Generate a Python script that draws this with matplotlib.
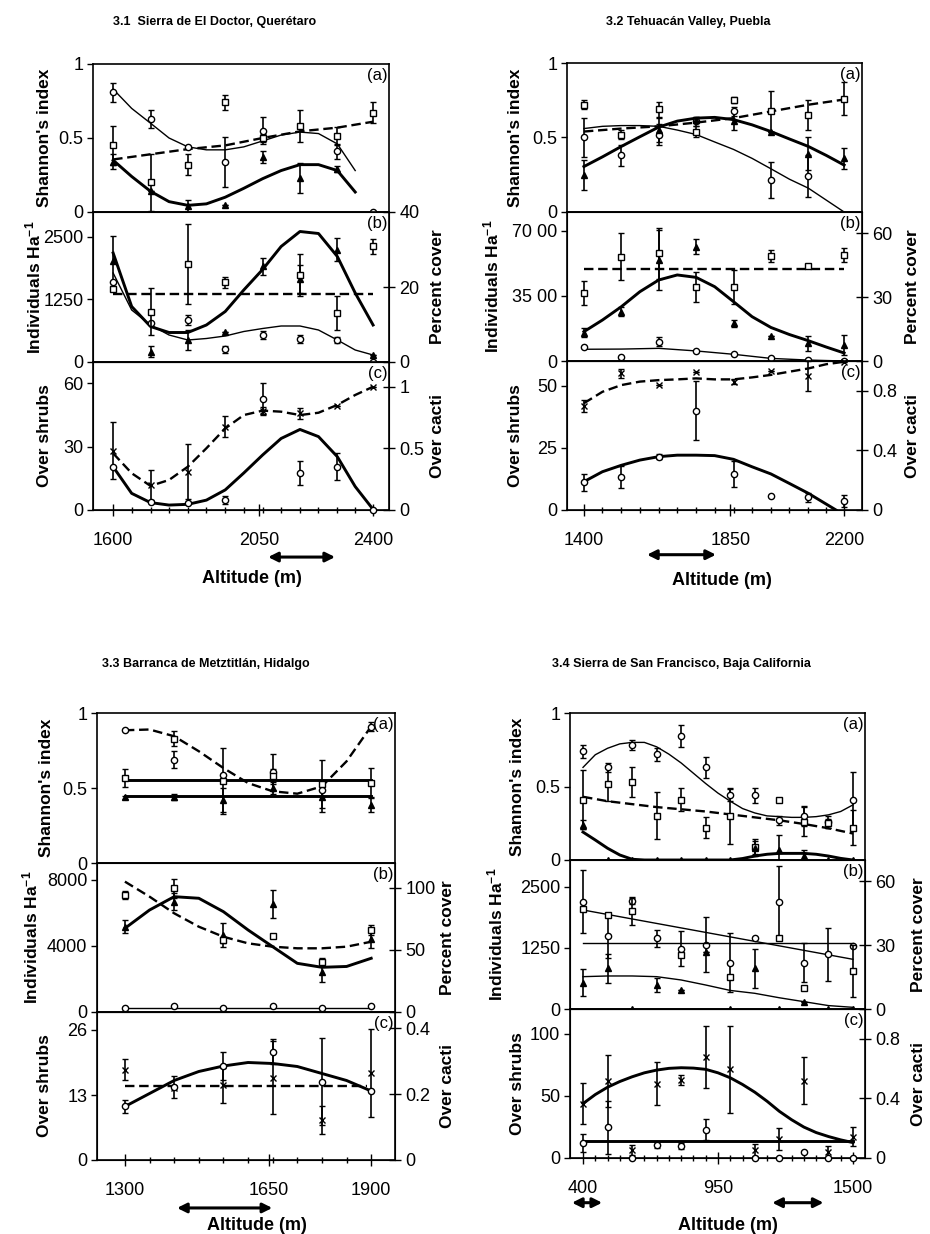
import numpy as np
import matplotlib
matplotlib.use("Agg")
import matplotlib.pyplot as plt
from matplotlib.ticker import FixedLocator

plt.rcParams['font.family'] = ['Liberation Sans', 'DejaVu Sans']
plt.rcParams['mathtext.fontset'] = 'custom'
plt.rcParams['mathtext.rm'] = 'Liberation Sans'
plt.rcParams['mathtext.bf'] = 'Liberation Sans:bold'
plt.rcParams['mathtext.default'] = 'bf'

nan = np.nan

# ---------------- 3.1 Sierra de El Doctor ----------------
alt_1 = [1600, 1715, 1830, 1945, 2060, 2175, 2290, 2400]
fit_1 = [1600, 1657, 1715, 1772, 1830, 1887, 1945, 2002, 2060, 2117, 2175, 2232, 2290, 2345, 2400]
arrow_1 = [2077, 2283]

sh1_circ = [0.81, 0.63, 0.44, 0.34, 0.55, nan, 0.41, 0.0]
sh1_circ_e = [0.065, 0.06, 0, 0.17, 0.09, 0, 0.05, 0]
sh1_sq = [0.45, 0.20, 0.32, 0.74, 0.50, 0.58, 0.515, 0.67]
sh1_sq_e = [0.13, 0.19, 0.07, 0.05, 0.03, 0.11, 0.06, 0.07]
sh1_tri = [0.34, 0.14, 0.04, 0.05, 0.37, 0.23, 0.29, nan]
sh1_tri_e = [0.05, 0, 0.04, 0, 0.04, 0.10, 0.02, 0]
sh1_fit_thin = [0.83, 0.70, 0.60, 0.50, 0.44, 0.42, 0.42, 0.44, 0.48, 0.52, 0.54, 0.53, 0.46, 0.28]
sh1_fit_dash = [0.355, 0.39, 0.425, 0.45, 0.50, 0.545, 0.57, 0.61]
sh1_fit_thick = [0.35, 0.24, 0.14, 0.07, 0.045, 0.055, 0.10, 0.16, 0.225, 0.28, 0.32, 0.32, 0.28, 0.135]

ind1_tri = [2010, 210, 440, 600, 1910, 1660, 2240, 140]
ind1_tri_e = [500, 110, 200, 0, 170, 280, 230, 0]
ind1_circ = [1607, 790, 840, 260, 540, 470, 440, 0]
ind1_circ_e = [0, 0, 90, 70, 80, 80, 60, 0]
cov1_sq = [19.5, 13.4, 26.1, 21.2, nan, 23.2, 13.1, 30.9]
cov1_sq_e = [0, 6.3, 10.7, 1.5, 0, 5.5, 4.5, 2.0]
cov1_fit = [18.1, 18.1]
ind1_fit_thick = [2180, 1110, 710, 590, 590, 740, 1010, 1440, 1850, 2310, 2610, 2570, 2110, 1380, 740]
ind1_fit_thin = [1780, 1040, 740, 540, 440, 470, 520, 610, 670, 720, 720, 640, 440, 240, 140]

shr1_x = [28, 11.8, 18.1, 39.4, 47.0, 45.7, 49.2, 58.3]
shr1_x_e = [13.5, 7, 13, 5, 1.5, 2.5, 0, 0]
cac1_circ = [0.35, 0.067, 0.06, 0.08, 0.90, 0.30, 0.35, 0.0]
cac1_circ_e = [0, 0, 0, 0.03, 0.13, 0.094, 0.11, 0]
shr1_fit = [26.8, 17.4, 11.4, 14.2, 20.5, 29.2, 38.6, 44.9, 47.0, 46.5, 44.9, 46.0, 49.7, 54.4, 58.3]
cac1_fit = [0.35, 0.135, 0.06, 0.04, 0.046, 0.08, 0.163, 0.30, 0.446, 0.58, 0.653, 0.595, 0.432, 0.19, 0.005]

# ---------------- 3.2 Tehuacan Valley ----------------
alt_2 = [1400, 1515, 1630, 1745, 1860, 1975, 2090, 2200]
fit_2 = [1400, 1457, 1515, 1572, 1630, 1687, 1745, 1802, 1860, 1917, 1975, 2032, 2090, 2145, 2200]
arrow_2 = [1594, 1806]

sh2_circ = [0.50, 0.38, 0.52, 0.61, 0.675, 0.215, 0.24, nan]
sh2_circ_e = [0.13, 0.07, 0.07, 0.03, 0.03, 0.12, 0.14, 0]
sh2_sq = [0.72, 0.52, 0.69, 0.54, 0.75, 0.675, 0.65, 0.76]
sh2_sq_e = [0.03, 0.03, 0.05, 0.04, 0.02, 0.14, 0.10, 0.11]
sh2_tri = [0.25, nan, 0.55, 0.62, 0.61, 0.54, 0.39, 0.36]
sh2_tri_e = [0.10, 0, 0.08, 0.02, 0.06, 0, 0.11, 0.07]
sh2_fit_dash = [0.54, 0.56, 0.575, 0.60, 0.63, 0.675, 0.72, 0.755]
sh2_fit_thin = [0.56, 0.575, 0.58, 0.58, 0.575, 0.55, 0.52, 0.47, 0.42, 0.36, 0.29, 0.22, 0.16, 0.08, 0.0]
sh2_fit_thick = [0.305, 0.37, 0.44, 0.505, 0.57, 0.61, 0.63, 0.635, 0.62, 0.585, 0.54, 0.49, 0.44, 0.38, 0.315]

ind2_tri = [1520, 2650, 5420, 6140, 2020, 1340, 950, 860]
ind2_tri_e = [250, 250, 1600, 400, 200, 0, 400, 550]
ind2_circ = [770, 220, 1040, 540, 360, 140, 50, 0]
ind2_circ_e = [0, 0, 250, 0, 0, 0, 0, 0]
cov2_sq = [31.8, 49.0, 50.6, 34.9, 34.9, 49.3, 44.6, 49.8]
cov2_sq_e = [5.6, 11, 12, 7, 8, 2.8, 0, 3.5]
cov2_fit = [43.1, 43.1]
ind2_fit_thick = [1575, 2200, 2915, 3720, 4350, 4620, 4490, 3990, 3185, 2380, 1800, 1420, 1090, 750, 430]
ind2_fit_thin = [630, 640, 680, 540, 360, 140, 50, 0]

shr2_x = [41.9, 55.0, 50.3, 55.7, 51.7, 56.1, 54.0, 59.7]
shr2_x_e = [2.5, 1.8, 0, 0, 1, 0, 6, 0]
cac2_circ = [0.186, 0.22, 0.358, 0.667, 0.242, 0.094, 0.085, 0.06]
cac2_circ_e = [0.056, 0.073, 0.015, 0.196, 0.09, 0, 0.03, 0.04]
shr2_fit = [43.0, 47.6, 50.3, 51.7, 52.3, 52.6, 53.0, 52.6, 52.6, 53.4, 54.4, 55.7, 57.0, 58.7, 59.7]
cac2_fit_x = [1400, 1457, 1515, 1572, 1630, 1687, 1745, 1802, 1860, 1917, 1975, 2032, 2090, 2150, 2175]
cac2_fit = [0.19, 0.257, 0.30, 0.335, 0.358, 0.368, 0.368, 0.365, 0.34, 0.29, 0.242, 0.178, 0.112, 0.033, 0.0]

# ---------------- 3.3 Barranca de Metztitlan ----------------
alt_3 = [1300, 1420, 1540, 1660, 1780, 1900]
fit_3 = [1300, 1360, 1420, 1480, 1540, 1600, 1660, 1720, 1780, 1840, 1900]
arrow_3 = [1427, 1659]

sh3_circ = [0.885, 0.69, 0.59, 0.61, 0.49, 0.907]
sh3_circ_e = [0, 0.055, 0, 0.12, 0, 0.03]
sh3_sq = [0.567, 0.827, 0.545, 0.58, 0.53, 0.533]
sh3_sq_e = [0.06, 0.05, 0.22, 0.05, 0.16, 0.10]
sh3_tri = [0.44, 0.44, 0.42, 0.50, 0.44, 0.39]
sh3_tri_e = [0.01, 0.02, 0.08, 0.04, 0.10, 0.05]
sh3_flat_hi = [0.551, 0.551]
sh3_flat_lo = [0.444, 0.444]
sh3_fit_dash = [0.885, 0.89, 0.845, 0.745, 0.633, 0.533, 0.478, 0.462, 0.511, 0.678, 0.911]

ind3_tri = [5150, 6660, 4650, 6520, 2435, 4390]
ind3_tri_e = [400, 500, 700, 850, 600, 500]
ind3_circ = [215, 360, 215, 360, 215, 360]
cov3_sq = [94.2, 99.6, 58.0, 61.2, 40.5, 66.0]
cov3_sq_e = [3.3, 7.4, 2.5, 1.5, 3, 4]
cov3_fit = [105, 92.9, 79.5, 68.7, 60.6, 55.3, 52.6, 51.3, 51.3, 52.6, 56.6]
ind3_fit = [5055, 6160, 6965, 6870, 6060, 4955, 3945, 2940, 2700, 2750, 3245]
ind3_flat = [220, 220]

shr3_x = [18.1, 14.5, 15.0, 16.5, 8.1, 17.5]
shr3_x_e = [2.1, 0, 3.5, 7.3, 2.8, 8.8]
shr3_circ = [10.8, 14.7, 18.8, 21.7, 15.7, 13.8]
shr3_circ_e = [1.3, 2.2, 2.8, 2.5, 8.7, 0]
shr3_fit = [10.7, 13.3, 15.9, 17.7, 18.8, 19.5, 19.3, 18.7, 17.3, 15.9, 13.8]
shr3_flat = [14.8, 14.8]

# ---------------- 3.4 Sierra de San Francisco ----------------
alt_4 = [400, 500, 600, 700, 800, 900, 1000, 1100, 1200, 1300, 1400, 1500]
fit_4 = [400, 450, 500, 550, 600, 650, 700, 750, 800, 850, 900, 950, 1000,
         1050, 1100, 1150, 1200, 1250, 1300, 1350, 1400, 1450, 1500]
arrow_4a = [355, 478]
arrow_4b = [1171, 1380]

sh4_circ = [0.74, 0.63, 0.78, 0.72, 0.845, 0.63, 0.44, 0.44, 0.27, 0.30, 0.26, 0.41]
sh4_circ_e = [0.045, 0.03, 0.035, 0.045, 0.075, 0.07, 0.04, 0.05, 0.03, 0.07, 0.04, 0.19]
sh4_sq = [0.41, 0.52, 0.53, 0.30, 0.41, 0.22, 0.30, 0.09, 0.41, 0.26, 0.25, 0.22]
sh4_sq_e = [0.20, 0.12, 0.10, 0.16, 0.08, 0.07, 0.19, 0.05, 0, 0.10, 0.03, 0.12]
sh4_tri = [0.24, 0, 0, 0, 0, 0, 0, 0.08, 0.07, 0.03, 0, 0]
sh4_tri_e = [0.03, 0, 0, 0, 0, 0, 0, 0.05, 0.10, 0.04, 0, 0]
sh4_fit_thin = [0.63, 0.716, 0.76, 0.79, 0.80, 0.80, 0.77, 0.72, 0.66, 0.59, 0.52, 0.455,
                0.40, 0.35, 0.32, 0.30, 0.295, 0.29, 0.29, 0.295, 0.307, 0.33, 0.375]
sh4_fit_dash = [0.43, 0.40, 0.38, 0.36, 0.345, 0.33, 0.31, 0.29, 0.27, 0.245, 0.216, 0.18]
sh4_fit_thick = [0.19, 0.136, 0.08, 0.034, 0.005, 0, 0, 0, 0, 0, 0, 0,
                 0, 0.01, 0.027, 0.039, 0.045, 0.045, 0.045, 0.039, 0.027, 0.011, 0.0]

ind4_circ = [2197, 1495, 2217, 1447, 1235, 1320, 950, 1460, 2183, 950, 1119, 1290]
ind4_circ_e = [650, 450, 60, 170, 360, 570, 600, 0, 740, 400, 540, 0]
cov4_sq = [46.8, 44.2, 46.0, nan, 25.5, nan, 14.8, nan, 33.5, 9.7, nan, 17.9]
cov4_sq_e = [0, 0.5, 6.6, 0, 0, 0, 0, 0, 0, 0, 0, 12.4]
ind4_tri = [540, 831, 0, 491, 389, 1160, 0, 830, 0, 150, 0, 0]
ind4_tri_e = [280, 300, 0, 150, 0, 0, 0, 400, 0, 0, 0, 0]
ind4_fit_slope = [2027, 1017]
cov4_fit = [30.9, 30.9]
ind4_fit_low = [662, 676, 676, 662, 594, 491, 380, 321, 230, 150, 70, 34]

shr4_x = [43.8, 62.2, 6.5, 60, 62.7, 81.6, 71.4, 6.5, 15.1, 62.2, 5, 17.3]
shr4_x_e = [16.5, 21, 4, 17, 4, 25, 35, 5, 9, 19, 5, 8]
cac4_circ = [0.10, 0.205, 0.0, 0.09, 0.083, 0.19, nan, 0.0, 0.0, 0.04, 0.0, 0.0]
cac4_circ_e = [0.06, 0.18, 0, 0.02, 0.02, 0.07, 0, 0, 0, 0, 0, 0]
shr4_fit = [43.8, 51.1, 57.0, 61.6, 65.4, 68.6, 70.8, 72.2, 72.7, 72.4, 71.4, 68.6,
            64.6, 59.2, 53.0, 45.7, 37.6, 30.8, 24.9, 20.5, 17.3, 14.6, 12.4]
cac4_flat = [0.115, 0.115]


W, H = 930, 1234
fig = plt.figure(figsize=(W / 100, H / 100), dpi=100)
TICK = 13
LAB = 12.5


def stack(left, right, edges):
    axs = []
    for t, b in zip(edges[:-1], edges[1:]):
        axs.append(fig.add_axes([left / W, 1 - b / H, (right - left) / W, (b - t) / H]))
    return axs


def lab(v):
    return f"{v:g}"


def base(ax, xlim, ylim, yt, ytl=None, xt=None, minor=None):
    ax.set_xlim(*xlim)
    ax.set_ylim(*ylim)
    ax.set_yticks(yt, labels=ytl if ytl else [lab(v) for v in yt])
    ax.tick_params(axis='y', direction='out', length=4, width=1, labelsize=TICK, pad=3)
    if xt is None:
        ax.set_xticks([])
    else:
        ax.set_xticks(xt, labels=[lab(v) for v in xt])
        ax.xaxis.set_minor_locator(FixedLocator(minor))
        ax.tick_params(axis='x', which='major', direction='inout', length=8, width=1,
                       labelsize=TICK, pad=12)
        ax.tick_params(axis='x', which='minor', direction='inout', length=5, width=1)
    for s in ax.spines.values():
        s.set_linewidth(1.2)


def right(ax, ylim, yt, label, xf):
    ax2 = ax.twinx()
    ax2.set_ylim(*ylim)
    ax2.set_yticks(yt, labels=[lab(v) for v in yt])
    ax2.tick_params(axis='y', direction='inout', length=9, width=1, labelsize=TICK, pad=3)
    ax2.set_ylabel(label, fontsize=LAB, fontweight='bold')
    ax2.yaxis.set_label_coords(xf, 0.5)
    return ax2


def ylab(ax, text, xf):
    ax.set_ylabel(text, fontsize=LAB, fontweight='bold')
    ax.yaxis.set_label_coords(xf, 0.5)


def tag(ax, text):
    ax.text(0.995, 0.975, text, transform=ax.transAxes, ha='right', va='top', fontsize=12)


def curve(ax, x, y, kind):
    if kind == 'thick':
        ax.plot(x, y, color='k', lw=2.1, zorder=2)
    elif kind == 'thin':
        ax.plot(x, y, color='k', lw=1.0, zorder=2)
    else:
        ax.plot(x, y, color='k', lw=1.7, ls=(0, (4, 2)), zorder=2)


def pts(ax, x, y, e, marker):
    face = 'k' if marker == '^' else 'white'
    eb = ax.errorbar(x, y, yerr=e, fmt=marker, ms=4.5, mfc=face, mec='k', mew=1.0,
                     ecolor='k', elinewidth=1.2, capsize=2.5, capthick=1.2, zorder=3)
    for a in eb.get_children():
        a.set_clip_on(False)


def arrow(ax, span, yf):
    ax.annotate('', xy=(span[1], yf), xytext=(span[0], yf),
                xycoords=('data', 'axes fraction'), textcoords=('data', 'axes fraction'),
                arrowprops=dict(arrowstyle='<|-|>', color='k', lw=2.2, mutation_scale=14,
                                shrinkA=0, shrinkB=0),
                annotation_clip=False)


def xlabel(ax, xf, yf):
    ax.set_xlabel('Altitude (m)', fontsize=13, fontweight='bold')
    ax.xaxis.set_label_coords(xf, yf)


# ---- 3.1 ----
fig.text(215 / W, 1 - 22 / H, '3.1  Sierra de El Doctor, Querétaro', ha='center',
         va='center', fontsize=9, fontweight='bold')
a, b, c = stack(93, 389, [64, 212, 362, 510])
xl = (1538, 2449)
base(a, xl, (0, 1), [0, 0.5, 1])
curve(a, fit_1[:14], sh1_fit_thin, 'thin')
curve(a, alt_1, sh1_fit_dash, 'dash')
curve(a, fit_1[:14], sh1_fit_thick, 'thick')
pts(a, alt_1, sh1_circ, sh1_circ_e, 'o')
pts(a, alt_1, sh1_sq, sh1_sq_e, 's')
pts(a, alt_1, sh1_tri, sh1_tri_e, '^')
ylab(a, "Shannon's index", -0.138)
tag(a, '(a)')

base(b, xl, (0, 3000), [0, 1250, 2500])
b2 = right(b, (0, 40), [0, 20, 40], 'Percent cover', 1.139)
curve(b, fit_1, ind1_fit_thick, 'thick')
curve(b, fit_1, ind1_fit_thin, 'thin')
curve(b2, [alt_1[0], alt_1[-1]], cov1_fit, 'dash')
pts(b, alt_1, ind1_tri, ind1_tri_e, '^')
pts(b, alt_1, ind1_circ, ind1_circ_e, 'o')
pts(b2, alt_1, cov1_sq, cov1_sq_e, 's')
ylab(b, 'Individuals Ha$^{-1}$', -0.168)
tag(b, '(b)')

base(c, xl, (0, 70), [0, 30, 60], xt=[1600, 2050, 2400], minor=fit_1)
c2 = right(c, (0, 1.2), [0, 0.5, 1], 'Over cacti', 1.139)
curve(c, fit_1, shr1_fit, 'dash')
curve(c2, fit_1, cac1_fit, 'thick')
pts(c, alt_1, shr1_x, shr1_x_e, 'x')
pts(c2, alt_1, cac1_circ, cac1_circ_e, 'o')
ylab(c, 'Over shrubs', -0.138)
tag(c, '(c)')
xlabel(c, 0.537, -0.405)
arrow(c, arrow_1, -0.318)

# ---- 3.2 ----
fig.text(688 / W, 1 - 22 / H, '3.2 Tehuacán Valley, Puebla', ha='center',
         va='center', fontsize=9, fontweight='bold')
a, b, c = stack(567, 862, [63, 212, 361, 510])
xl = (1348, 2255)
base(a, xl, (0, 1), [0, 0.5, 1])
curve(a, alt_2, sh2_fit_dash, 'dash')
curve(a, fit_2, sh2_fit_thin, 'thin')
curve(a, fit_2, sh2_fit_thick, 'thick')
pts(a, alt_2, sh2_circ, sh2_circ_e, 'o')
pts(a, alt_2, sh2_sq, sh2_sq_e, 's')
pts(a, alt_2, sh2_tri, sh2_tri_e, '^')
ylab(a, "Shannon's index", -0.148)
tag(a, '(a)')

base(b, xl, (0, 8000), [0, 3500, 7000], ytl=['0', '35 00', '70 00'])
b2 = right(b, (0, 70), [0, 30, 60], 'Percent cover', 1.146)
curve(b, fit_2, ind2_fit_thick, 'thick')
curve(b, alt_2, ind2_fit_thin, 'thin')
curve(b2, [alt_2[0], alt_2[-1]], cov2_fit, 'dash')
pts(b, alt_2, ind2_tri, ind2_tri_e, '^')
pts(b, alt_2, ind2_circ, ind2_circ_e, 'o')
pts(b2, alt_2, cov2_sq, cov2_sq_e, 's')
ylab(b, 'Individuals Ha$^{-1}$', -0.222)
tag(b, '(b)')

base(c, xl, (0, 60), [0, 25, 50], xt=[1400, 1850, 2200], minor=fit_2)
c2 = right(c, (0, 1), [0, 0.4, 0.8], 'Over cacti', 1.146)
curve(c, fit_2, shr2_fit, 'dash')
curve(c2, cac2_fit_x, cac2_fit, 'thick')
pts(c, alt_2, shr2_x, shr2_x_e, 'x')
pts(c2, alt_2, cac2_circ, cac2_circ_e, 'o')
ylab(c, 'Over shrubs', -0.148)
tag(c, '(c)')
xlabel(c, 0.525, -0.416)
arrow(c, arrow_2, -0.30)

# ---- 3.3 ----
fig.text(206 / W, 1 - 664 / H, '3.3 Barranca de Metztitlán, Hidalgo', ha='center',
         va='center', fontsize=9, fontweight='bold')
a, b, c = stack(97, 395, [713, 863, 1012, 1160])
xl = (1232, 1958)
base(a, xl, (0, 1), [0, 0.5, 1])
curve(a, [alt_3[0], alt_3[-1]], sh3_flat_hi, 'thick')
curve(a, [alt_3[0], alt_3[-1]], sh3_flat_lo, 'thick')
curve(a, fit_3, sh3_fit_dash, 'dash')
pts(a, alt_3, sh3_circ, sh3_circ_e, 'o')
pts(a, alt_3, sh3_sq, sh3_sq_e, 's')
pts(a, alt_3, sh3_tri, sh3_tri_e, '^')
ylab(a, "Shannon's index", -0.145)
tag(a, '(a)')

base(b, xl, (0, 9000), [0, 4000, 8000])
b2 = right(b, (0, 120), [0, 50, 100], 'Percent cover', 1.151)
curve(b, fit_3, ind3_fit, 'thick')
curve(b, [alt_3[0], alt_3[-1]], ind3_flat, 'thin')
curve(b2, fit_3, cov3_fit, 'dash')
pts(b, alt_3, ind3_tri, ind3_tri_e, '^')
pts(b, alt_3, ind3_circ, [0] * 6, 'o')
pts(b2, alt_3, cov3_sq, cov3_sq_e, 's')
ylab(b, 'Individuals Ha$^{-1}$', -0.19)
tag(b, '(b)')

base(c, xl, (0, 29.6), [0, 13, 26], xt=[1300, 1650, 1900], minor=fit_3)
c2 = right(c, (0, 0.45), [0, 0.2, 0.4], 'Over cacti', 1.151)
curve(c, fit_3, shr3_fit, 'thick')
curve(c, [alt_3[0], 1890], shr3_flat, 'dash')
pts(c, alt_3, shr3_x, shr3_x_e, 'x')
pts(c, alt_3, shr3_circ, shr3_circ_e, 'o')
ylab(c, 'Over shrubs', -0.15)
tag(c, '(c)')
xlabel(c, 0.537, -0.385)
arrow(c, arrow_3, -0.324)

# ---- 3.4 ----
fig.text(681 / W, 1 - 664 / H, '3.4 Sierra de San Francisco, Baja California', ha='center',
         va='center', fontsize=9, fontweight='bold')
a, b, c = stack(570, 865, [713, 860, 1009, 1158])
xl = (347, 1549)
base(a, xl, (0, 1), [0, 0.5, 1])
curve(a, fit_4, sh4_fit_thin, 'thin')
curve(a, alt_4, sh4_fit_dash, 'dash')
curve(a, fit_4, sh4_fit_thick, 'thick')
pts(a, alt_4, sh4_circ, sh4_circ_e, 'o')
pts(a, alt_4, sh4_sq, sh4_sq_e, 's')
pts(a, alt_4, sh4_tri, sh4_tri_e, '^')
ylab(a, "Shannon's index", -0.151)
tag(a, '(a)')

base(b, xl, (0, 3050), [0, 1250, 2500])
b2 = right(b, (0, 70), [0, 30, 60], 'Percent cover', 1.156)
curve(b, [alt_4[0], alt_4[-1]], ind4_fit_slope, 'thin')
curve(b, alt_4, ind4_fit_low, 'thin')
curve(b2, [alt_4[0], alt_4[-1]], cov4_fit, 'thin')
pts(b, alt_4, ind4_circ, ind4_circ_e, 'o')
pts(b, alt_4, ind4_tri, ind4_tri_e, '^')
pts(b2, alt_4, cov4_sq, cov4_sq_e, 's')
ylab(b, 'Individuals Ha$^{-1}$', -0.218)
tag(b, '(b)')

base(c, xl, (0, 120), [0, 50, 100], xt=[400, 950, 1500], minor=fit_4)
c2 = right(c, (0, 1), [0, 0.4, 0.8], 'Over cacti', 1.156)
curve(c, fit_4, shr4_fit, 'thick')
curve(c2, [alt_4[0], alt_4[-1]], cac4_flat, 'thick')
pts(c, alt_4, shr4_x, shr4_x_e, 'x')
pts(c2, alt_4, cac4_circ, cac4_circ_e, 'o')
ylab(c, 'Over shrubs', -0.151)
tag(c, '(c)')
xlabel(c, 0.536, -0.396)
arrow(c, arrow_4a, -0.30)
arrow(c, arrow_4b, -0.30)

fig.savefig('out.png', dpi=100)
